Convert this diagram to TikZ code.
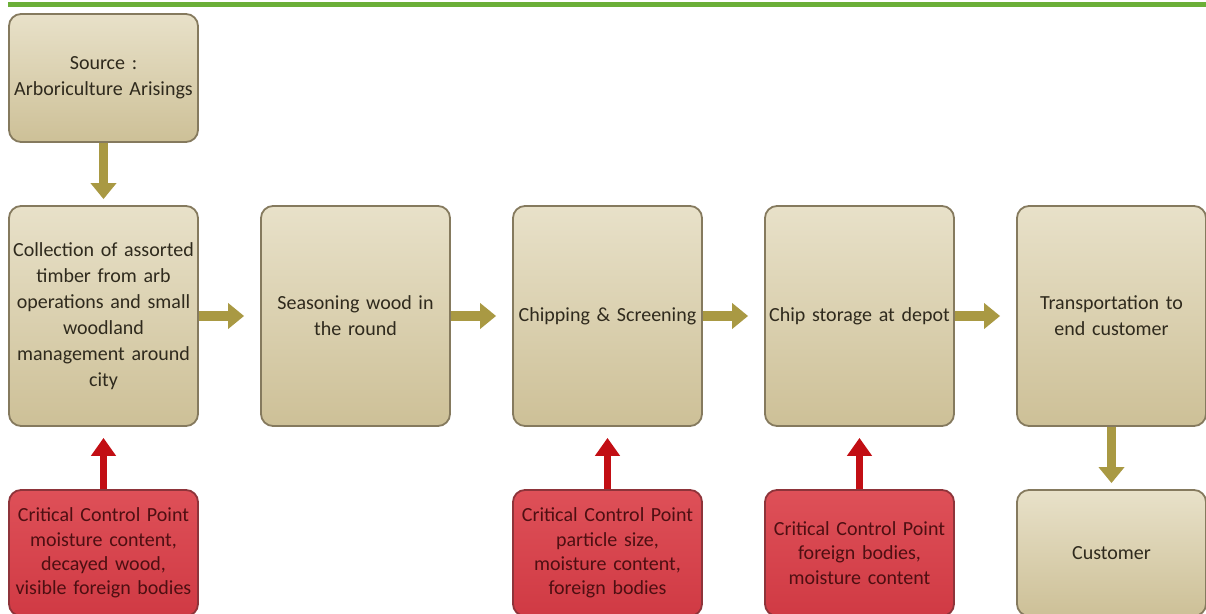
\documentclass[tikz,border=0pt]{standalone}
\usepackage{fontspec}
\setmainfont{Carlito}
\usetikzlibrary{arrows.meta,shapes}

\definecolor{tanlight}{HTML}{E8E1C9}
\definecolor{tandark}{HTML}{CDC097}
\definecolor{tanedge}{HTML}{857A5E}
\definecolor{inktan}{HTML}{2F2A1D}
\definecolor{redlight}{HTML}{DE5058}
\definecolor{reddark}{HTML}{D03A44}
\definecolor{rededge}{HTML}{8E343A}
\definecolor{inkred}{HTML}{4E0F12}
\definecolor{gold}{HTML}{A99943}
\definecolor{ccpred}{HTML}{C20E14}
\definecolor{topbar}{HTML}{6BAF38}

\begin{document}
\begin{tikzpicture}[x=0.5pt,y=-0.5pt,node distance=126pt,
		stage/.style={rectangle,rounded corners=6pt,draw=tanedge,line width=0.9pt,
			top color=tanlight,bottom color=tandark,text=inktan,
			minimum width=94.5pt,minimum height=110pt,text width=93pt,inner sep=0.5pt,
			align=center,font=\fontsize{10}{13}\selectfont},
		ccp/.style={stage,draw=rededge,top color=redlight,bottom color=reddark,
			text=inkred,minimum height=63pt,font=\fontsize{10}{12.2}\selectfont},
		flow/.style={-{Triangle[length=8pt,width=12.5pt]},line width=4.8pt,draw=gold},
		check/.style={-{Triangle[length=9pt,width=12pt]},line width=3.2pt,draw=ccpred}]

	\useasboundingbox (0,0) rectangle (1206,614);
	\fill[topbar] (8,2) rectangle (1206,7);

	\node[stage,minimum height=64pt] (Src) at (103.5,78) {Source :\\Arboriculture Arisings};
	\node[stage,node distance=119pt] (Coll) [below of=Src] {Collection of assorted\\timber from arb\\operations and small\\woodland\\management around\\city};
	\node[stage] (Season) [right of=Coll] {Seasoning wood in\\the round};
	\node[stage] (Chip) [right of=Season] {Chipping \& Screening};
	\node[stage] (Store) [right of=Chip] {Chip storage at depot};
	\node[stage] (Trans) [right of=Store] {Transportation to\\end customer};

	\node[ccp,node distance=118.5pt] (CcpColl) [below of=Coll] {Critical Control Point\\moisture content,\\decayed wood,\\visible foreign bodies};
	\node[ccp,node distance=118.5pt] (CcpChip) [below of=Chip] {Critical Control Point\\particle size,\\moisture content,\\foreign bodies};
	\node[ccp,node distance=118.5pt] (CcpStore) [below of=Store] {Critical Control Point\\foreign bodies,\\moisture content};
	\node[stage,minimum height=63pt,node distance=118.5pt] (Cust) [below of=Trans] {Customer};

	\draw[flow,shorten >=3pt] (Src) -- (Coll);
	\draw[flow,shorten >=8pt] (Coll) -- (Season);
	\draw[flow,shorten >=8pt] (Season) -- (Chip);
	\draw[flow,shorten >=8pt] (Chip) -- (Store);
	\draw[flow,shorten >=8pt] (Store) -- (Trans);
	\draw[flow,shorten >=3pt] (Trans) -- (Cust);

	\draw[check,shorten >=5.5pt] (CcpColl) -- (Coll);
	\draw[check,shorten >=5.5pt] (CcpChip) -- (Chip);
	\draw[check,shorten >=5.5pt] (CcpStore) -- (Store);
\end{tikzpicture}
\end{document}
